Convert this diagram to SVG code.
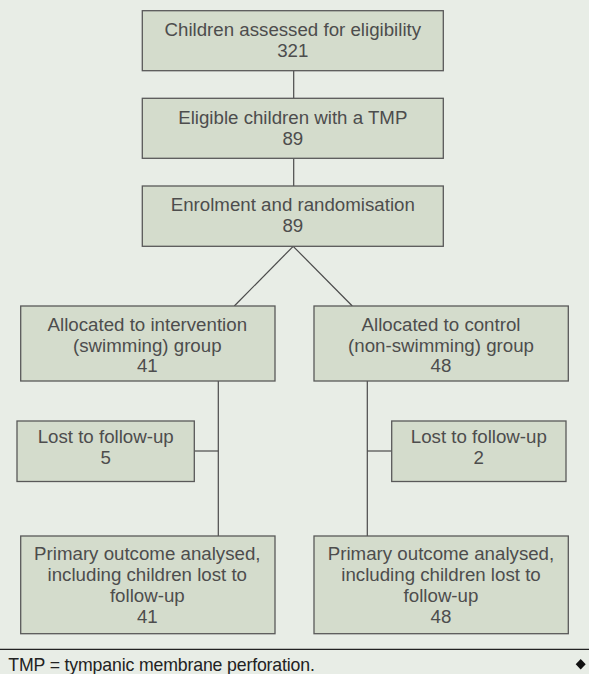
<svg xmlns="http://www.w3.org/2000/svg" width="589" height="674" viewBox="0 0 589 674">
<style>
.bg{fill:#e8ede6}
.box{fill:#d4dccc;stroke:#595959;stroke-width:1.3}
.t{font-family:"Liberation Sans",Arial,sans-serif;font-size:18.7px;fill:#4d4d4d;text-anchor:middle}
.ln{stroke:#4a4a4a;stroke-width:1.2;fill:none}
.foot{font-family:"Liberation Sans",Arial,sans-serif;font-size:17.7px;fill:#222;letter-spacing:-0.15px}
</style>
<rect class="bg" x="0" y="0" width="589" height="674"/>
<g id="connectors">
<line class="ln" x1="293.7" y1="71" x2="293.7" y2="98"/>
<line class="ln" x1="293.7" y1="158.5" x2="293.7" y2="186"/>
<line class="ln" x1="293.2" y1="246.3" x2="234.3" y2="306"/>
<line class="ln" x1="293.2" y1="246.3" x2="352.3" y2="306"/>
<line class="ln" x1="218.3" y1="381" x2="218.3" y2="536"/>
<line class="ln" x1="194.3" y1="451" x2="218.3" y2="451"/>
<line class="ln" x1="367.3" y1="381" x2="367.3" y2="536"/>
<line class="ln" x1="367.3" y1="451" x2="391.7" y2="451"/>
</g>
<g id="n1">
<rect class="box" x="142.3" y="10.7" width="301" height="60"/>
<text class="t" x="292.8" y="35.7">Children assessed for eligibility</text>
<text class="t" x="292.8" y="56.7">321</text>
</g>
<g id="n2">
<rect class="box" x="142.3" y="98.3" width="301" height="60"/>
<text class="t" x="292.8" y="124">Eligible children with a TMP</text>
<text class="t" x="292.8" y="144.5">89</text>
</g>
<g id="n3">
<rect class="box" x="142.3" y="186" width="301" height="60.3"/>
<text class="t" x="292.8" y="211.3">Enrolment and randomisation</text>
<text class="t" x="292.8" y="231.8">89</text>
</g>
<g id="n4">
<rect class="box" x="20.7" y="306" width="254.3" height="75"/>
<text class="t" x="147.3" y="331">Allocated to intervention</text>
<text class="t" x="147.3" y="351.5">(swimming) group</text>
<text class="t" x="147.3" y="372">41</text>
</g>
<g id="n5">
<rect class="box" x="314" y="306" width="254.3" height="75"/>
<text class="t" x="441" y="331">Allocated to control</text>
<text class="t" x="441" y="351.5">(non-swimming) group</text>
<text class="t" x="441" y="372">48</text>
</g>
<g id="n6">
<rect class="box" x="17" y="421" width="177.3" height="60.5"/>
<text class="t" x="105.7" y="443.3">Lost to follow-up</text>
<text class="t" x="105.7" y="464">5</text>
</g>
<g id="n7">
<rect class="box" x="391.7" y="421" width="174.3" height="60.5"/>
<text class="t" x="478.8" y="443.3">Lost to follow-up</text>
<text class="t" x="478.8" y="464">2</text>
</g>
<g id="n8">
<rect class="box" x="20.7" y="536" width="254.3" height="97.7"/>
<text class="t" x="147.3" y="560.3">Primary outcome analysed,</text>
<text class="t" x="147.3" y="581">including children lost to</text>
<text class="t" x="147.3" y="601.7">follow-up</text>
<text class="t" x="147.3" y="622.5">41</text>
</g>
<g id="n9">
<rect class="box" x="314" y="536" width="254.3" height="97.7"/>
<text class="t" x="441" y="560.3">Primary outcome analysed,</text>
<text class="t" x="441" y="581">including children lost to</text>
<text class="t" x="441" y="601.7">follow-up</text>
<text class="t" x="441" y="622.5">48</text>
</g>
<g id="footer">
<line x1="0" y1="649.3" x2="589" y2="649.3" stroke="#222" stroke-width="1.2"/>
<text class="foot" x="8.3" y="671">TMP = tympanic membrane perforation.</text>
<polygon points="580.7,659 585.7,664.3 580.7,669.6 575.7,664.3" fill="#111"/>
</g>
</svg>
